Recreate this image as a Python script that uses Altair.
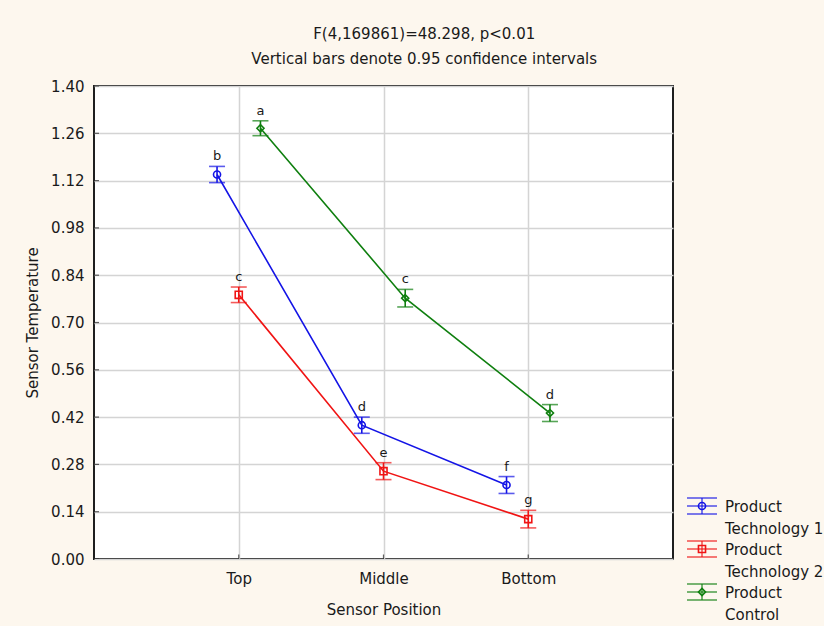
import altair as alt
import pandas as pd

positions = ["Top", "Middle", "Bottom"]
series = ["Product Technology 1", "Product Technology 2", "Product Control"]
legend_text = ["Product\nTechnology 1", "Product\nTechnology 2", "Product\nControl"]
colors = ["#1414e6", "#f01414", "#0f7f0f"]
shapes = ["circle", "square", "diamond"]
offsets = [-0.15, 0.0, 0.15]

tech1_mean = [1.138, 0.396, 0.219]
tech1_ci = [0.024, 0.024, 0.025]
tech1_letters = ["b", "d", "f"]
tech2_mean = [0.782, 0.260, 0.118]
tech2_ci = [0.023, 0.025, 0.026]
tech2_letters = ["c", "e", "g"]
control_mean = [1.275, 0.772, 0.432]
control_ci = [0.022, 0.026, 0.025]
control_letters = ["a", "c", "d"]

y_ticks = [0.00, 0.14, 0.28, 0.42, 0.56, 0.70, 0.84, 0.98, 1.12, 1.26, 1.40]
x_ticks = [1, 2, 3]

FONT = "DejaVu Sans"
TXT = "#1a1a1a"

rows = []
for s, off, means, cis, lets in zip(
    series, offsets,
    [tech1_mean, tech2_mean, control_mean],
    [tech1_ci, tech2_ci, control_ci],
    [tech1_letters, tech2_letters, control_letters],
):
    for i, (m, c, l) in enumerate(zip(means, cis, lets)):
        rows.append({"series": s, "xpos": i + 1 + off, "mean": m,
                     "lo": m - c, "hi": m + c, "letter": l})
df = pd.DataFrame(rows)

xscale = alt.Scale(domain=[0, 4], nice=False, zero=False)
yscale = alt.Scale(domain=[0, 1.4], nice=False, zero=False)
xaxis = alt.Axis(values=x_ticks, labelExpr="['', 'Top', 'Middle', 'Bottom', ''][datum.value]",
                 grid=True, gridColor="#d4d4d4", gridWidth=1.5, ticks=False, domain=False,
                 labelFontSize=15, labelPadding=12, labelColor=TXT, labelFont=FONT,
                 title="Sensor Position", titleFontSize=15, titleFontWeight="normal",
                 titleColor=TXT, titleFont=FONT, titlePadding=16)
yaxis = alt.Axis(values=y_ticks, format=".2f", grid=True, gridColor="#d4d4d4", gridWidth=1.5,
                 ticks=False, domain=False, labelFontSize=15, labelPadding=10,
                 labelColor=TXT, labelFont=FONT,
                 title="Sensor Temperature", titleFontSize=15, titleFontWeight="normal",
                 titleColor=TXT, titleFont=FONT, titlePadding=10)


def X(f):
    return alt.X(f, type="quantitative", scale=xscale, axis=xaxis)


def Y(f):
    return alt.Y(f, type="quantitative", scale=yscale, axis=yaxis)


color = alt.Color("series:N", scale=alt.Scale(domain=series, range=colors), legend=None)
shape = alt.Shape("series:N", scale=alt.Scale(domain=series, range=shapes), legend=None)

base = alt.Chart(df)
lines = base.mark_line(strokeWidth=1.6).encode(x=X("xpos"), y=Y("mean"), color=color,
                                               order="xpos:Q")
bars = base.mark_rule(strokeWidth=1.6).encode(x=X("xpos"), y=Y("lo"), y2="hi", color=color)
cap_lo = base.mark_tick(orient="horizontal", size=16, thickness=1.6).encode(
    x=X("xpos"), y=Y("lo"), color=color)
cap_hi = base.mark_tick(orient="horizontal", size=16, thickness=1.6).encode(
    x=X("xpos"), y=Y("hi"), color=color)
pts = base.mark_point(filled=False, size=50, strokeWidth=1.6, opacity=1).encode(
    x=X("xpos"), y=Y("mean"), color=color, shape=shape)
letters = base.mark_text(baseline="alphabetic", dy=-6, fontSize=13, font=FONT, color=TXT).encode(
    x=X("xpos"), y=Y("hi"), text="letter:N")

ytick_df = pd.DataFrame({"y": y_ticks, "x0": [0] * len(y_ticks)})
xtick_df = pd.DataFrame({"x": x_ticks, "y0": [0] * len(x_ticks)})
yt = alt.Chart(ytick_df).mark_tick(orient="horizontal", size=10, thickness=1.2,
                                   color="#222222", clip=True).encode(x=X("x0"), y=Y("y"))
xt = alt.Chart(xtick_df).mark_tick(orient="vertical", size=9, thickness=1.2,
                                   color="#222222", clip=True).encode(x=X("x"), y=Y("y0"))

main = alt.layer(yt, xt, lines, bars, cap_lo, cap_hi, pts, letters).properties(
    width=579, height=473,
    view=alt.ViewBackground(fill="white", stroke="#1e1e1e", strokeWidth=2),
)

leg_df = pd.DataFrame({"series": series, "label": legend_text})
lx = alt.value(19)
ly = alt.Y("series:N", scale=alt.Scale(type="point", domain=series, range=[420, 506],
                                       padding=0), axis=None)
lcolor = alt.Color("series:N", scale=alt.Scale(domain=series, range=colors), legend=None)
lshape = alt.Shape("series:N", scale=alt.Scale(domain=series, range=shapes), legend=None)
lb = alt.Chart(leg_df)
l_mid = lb.mark_tick(orient="horizontal", size=30, thickness=1.6).encode(x=lx, y=ly, color=lcolor)
l_top = lb.mark_tick(orient="horizontal", size=30, thickness=1.6, yOffset=-8).encode(
    x=lx, y=ly, color=lcolor)
l_bot = lb.mark_tick(orient="horizontal", size=30, thickness=1.6, yOffset=8).encode(
    x=lx, y=ly, color=lcolor)
l_vert = lb.mark_tick(orient="vertical", size=16, thickness=1.6).encode(x=lx, y=ly, color=lcolor)
l_pt = lb.mark_point(filled=False, size=50, strokeWidth=1.6, opacity=1).encode(
    x=lx, y=ly, color=lcolor, shape=lshape)
l_txt = lb.mark_text(align="left", baseline="alphabetic", dx=23, dy=5.5, lineBreak="\n",
                     lineHeight=22, fontSize=15, font=FONT, color=TXT).encode(
    x=lx, y=ly, text="label:N")
legend = alt.layer(l_mid, l_top, l_bot, l_vert, l_pt, l_txt).properties(
    width=140, height=540,
    view=alt.ViewBackground(fill="transparent", stroke="transparent"),
)

chart = alt.hconcat(main, legend, spacing=8).resolve_scale(
    color="independent", shape="independent", y="independent"
).properties(
    title=alt.TitleParams(
        text=["F(4,169861)=48.298, p<0.01", "Vertical bars denote 0.95 confidence intervals"],
        fontSize=15, fontWeight="normal", font=FONT, color=TXT, lineHeight=25,
        anchor="middle", offset=11,
    ),
    background="#fdf7ee",
    padding={"left": 24, "top": 27, "right": 0, "bottom": 0},
).configure(font=FONT)

chart.save("out.html", embed_options={"renderer": "svg", "actions": False})
